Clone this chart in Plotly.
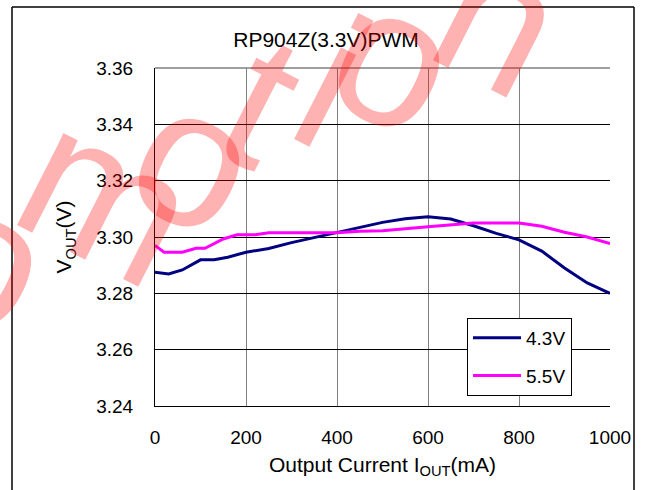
import plotly.graph_objects as go

# ---- data ----
current_43 = [0, 30, 60, 100, 130, 160, 200, 250, 300, 350, 400, 450, 500, 550, 600,
              650, 700, 750, 800, 850, 900, 950, 1000]
vout_43 = [3.2875, 3.2869, 3.2883, 3.2919, 3.2919, 3.2928, 3.2946, 3.2959, 3.2980, 3.2998,
           3.3015, 3.3034, 3.3052, 3.3065, 3.3072, 3.3064, 3.3040, 3.3013, 3.2990, 3.2950,
           3.2890, 3.2837, 3.2800]

current_55 = [0, 20, 60, 90, 110, 150, 180, 220, 250, 400, 450, 500, 600, 700, 800,
              850, 900, 950, 1000]
vout_55 = [3.2970, 3.2946, 3.2946, 3.2960, 3.2960, 3.2993, 3.3008, 3.3008, 3.3015, 3.3015,
           3.3020, 3.3022, 3.3036, 3.3050, 3.3050, 3.3038, 3.3017, 3.3000, 3.2977]

series_names = ["4.3V", "5.5V"]
series_colors = ["#000080", "#FF00FF"]

x_ticks = [0, 200, 400, 600, 800, 1000]
y_ticks = [3.24, 3.26, 3.28, 3.30, 3.32, 3.34, 3.36]

title_text = "RP904Z(3.3V)PWM"
x_title = "Output Current I<sub>OUT</sub>(mA)"
y_title = "V<sub>OUT</sub>(V)"
watermark_letters = ["o", "m", "o", "t", "i", "o", "n"]
watermark_centers = [(-12, 258), (108, 195), (196, 158), (262, 100), (332, 82), (396, 58), (500, 18)]

FONT = "Liberation Sans, Arial, sans-serif"

W, H = 646, 490
L, R, T, B = 155, 36, 68, 84
px = lambda v: (v - L) / (W - L - R)
py = lambda v: (H - B - v) / (H - T - B)

fig = go.Figure()
for i, (xs, ys) in enumerate([(current_43, vout_43), (current_55, vout_55)]):
    fig.add_trace(go.Scatter(
        x=xs, y=ys, mode="lines", name=series_names[i],
        legendgroup=series_names[i],
        line=dict(color=series_colors[i], width=3),
    ))

fig.update_layout(
    width=W, height=H,
    margin=dict(l=L, r=R, t=T, b=B, pad=0, autoexpand=False),
    paper_bgcolor="white", plot_bgcolor="white",
    font=dict(family=FONT, color="black", size=19),
    title=dict(text=title_text, x=326 / W, xanchor="center",
               y=1 - 40 / H, yanchor="middle",
               font=dict(size=21, family=FONT, color="black")),
    showlegend=True,
    legend=dict(
        x=px(467), y=py(318),
        xanchor="left", yanchor="top",
        bgcolor="white", bordercolor="black", borderwidth=1,
        font=dict(size=19, family=FONT, color="black"),
        tracegroupgap=10, itemwidth=48,
    ),
    xaxis=dict(
        range=[0, 1000], tickvals=x_ticks, ticktext=[str(v) for v in x_ticks],
        showgrid=True, gridcolor="#808080", gridwidth=1,
        showline=True, linecolor="black", linewidth=1, mirror=False,
        zeroline=False, ticks="", ticklabelstandoff=14,
        tickfont=dict(size=19), automargin=False,
        title=dict(text=x_title, standoff=10, font=dict(size=21)),
    ),
    yaxis=dict(
        range=[3.24, 3.36], tickvals=y_ticks, ticktext=[f"{v:.2f}" for v in y_ticks],
        showgrid=True, gridcolor="black", gridwidth=1,
        showline=True, linecolor="black", linewidth=1, mirror=False,
        zeroline=False, ticks="", ticklabelstandoff=17,
        tickfont=dict(size=19), automargin=False,
        title=dict(text=y_title, standoff=18, font=dict(size=21)),
    ),
)

# gray top edge of the plot area
fig.add_shape(type="line", xref="paper", yref="paper", layer="above",
              x0=0, x1=1, y0=1, y1=1, line=dict(color="#808080", width=1.5))

# outer frame (open at the bottom, cut off by the image edge)
frame = dict(type="line", xref="paper", yref="paper", layer="above")
fig.add_shape(**frame, x0=px(12), x1=px(12), y0=py(7), y1=py(490), line=dict(color="black", width=1.5))
fig.add_shape(**frame, x0=px(12), x1=px(634), y0=py(7), y1=py(7), line=dict(color="black", width=1.5))
fig.add_shape(**frame, x0=px(634), x1=px(634), y0=py(7), y1=py(490), line=dict(color="black", width=1.5))

# watermark (letters slanted to the right along a rising baseline)
for ch, (cx, cy) in zip(watermark_letters, watermark_centers):
    fig.add_annotation(text=ch, xref="paper", yref="paper",
                       x=px(cx), y=py(cy), xanchor="center", yanchor="middle",
                       showarrow=False, textangle=27,
                       font=dict(size=195, family="Liberation Sans Narrow, Arial Narrow, sans-serif",
                                 color="rgba(255,0,0,0.3)"))

fig.write_html("out.html", config={"displayModeBar": False},
               post_script="document.body.style.margin='0';document.body.style.overflow='hidden';")
